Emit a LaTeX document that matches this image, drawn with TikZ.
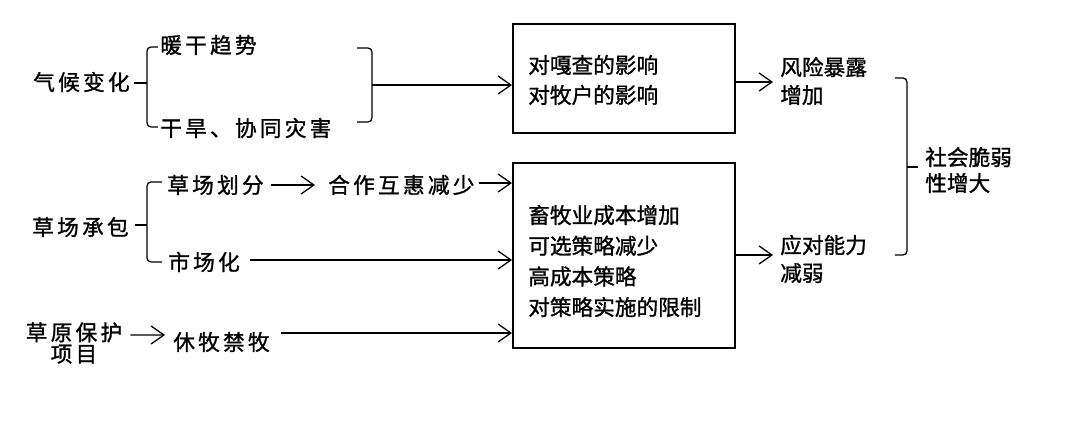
\documentclass[tikz,border=0pt]{standalone}
\usepackage{fontspec}
\setmainfont{Noto Sans CJK SC}
\newfontfamily\cjkwide[LetterSpace=15,FakeBold=1.2]{Noto Sans CJK SC}
\newfontfamily\cjknarrow[LetterSpace=0,FakeBold=1.2]{Noto Sans CJK SC}
\usetikzlibrary{arrows.meta}
\begin{document}
\begin{tikzpicture}[x=0.025cm,y=-0.025cm,
  lbl/.style={inner sep=0,anchor=west,font=\cjkwide\fontsize{15.4pt}{18pt}\selectfont},
  rlbl/.style={inner sep=0,anchor=west,align=left,font=\cjknarrow\fontsize{15.4pt}{19.9pt}\selectfont},
  frame/.style={draw,line width=1.1pt,inner sep=0,anchor=north west,minimum width=5.55cm},
  conn/.style={line width=0.9pt},
  arr/.style={conn,-{Straight Barb[length=0.32cm,width=0.45cm]}},
  brace/.style={conn,rounded corners=0.1cm}]
\fill[white] (0,0) rectangle (1080,425);
\useasboundingbox (0,0) rectangle (1080,425);

% left labels
\node[lbl] (qh) at (33,82) {气候变化};
\node[lbl] (nh) at (160,45) {暖干趋势};
\node[lbl] (gh) at (160,128) {干旱、协同灾害};
\node[lbl] (cc) at (32,227) {草场承包};
\node[lbl] (hf) at (167,185) {草场划分};
\node[lbl] (hz) at (328,185) {合作互惠减少};
\node[lbl] (sc) at (168,262) {市场化};
\node[lbl,anchor=center,align=center,font=\cjkwide\fontsize{15.4pt}{15.2pt}\selectfont] (cy) at (74,343) {草原保护\\项目};
\node[lbl] (xm) at (173,342) {休牧禁牧};

% boxes
\node[frame,minimum height=2.725cm] (box1) at (512,23) {};
\node[rlbl,font=\cjknarrow\fontsize{15.4pt}{21.3pt}\selectfont] (b1t) at (528,80) {对嘎查的影响\\对牧户的影响};
\node[frame,minimum height=4.625cm] (box2) at (512,162) {};
\node[rlbl,font=\cjknarrow\fontsize{15.4pt}{21.8pt}\selectfont] (b2t) at (528,261) {畜牧业成本增加\\可选策略减少\\高成本策略\\对策略实施的限制};

% right labels
\node[rlbl] (fx) at (780,81) {风险暴露\\增加};
\node[rlbl] (yd) at (780,259) {应对能力\\减弱};
\node[rlbl,font=\cjknarrow\fontsize{15.4pt}{18.4pt}\selectfont] (sh) at (925,170) {社会脆弱\\性增大};

% braces
\draw[brace] (158,47) -- (147,47) -- (147,127) -- (158,127);
\draw[conn] (134,83) -- (147,83);
\draw[brace] (357,48) -- (372,48) -- (372,122) -- (357,122);
\coordinate (r1m) at (380,85);
\draw[conn] (372,85) -- (r1m);
\draw[brace] (162,182) -- (147,182) -- (147,262) -- (162,262);
\draw[conn] (135,225) -- (147,225);
\draw[brace] (895,78) -- (907,78) -- (907,255) -- (895,255);
\draw[conn] (907,167) -- (918,167);

% arrows
\draw[arr] (r1m) -- (r1m -| box1.west);
\coordinate (fxin) at (773,82);
\draw[arr] (box1.east |- fxin) -- (fxin);
\coordinate (ydin) at (773,255);
\draw[arr] (box2.east |- ydin) -- (ydin);
\draw[arr] ([xshift=0.175cm]hf.east) -- ([xshift=-0.325cm]hz.west);
\coordinate (hza) at ([xshift=0.1cm,yshift=0.05cm]hz.east);
\draw[arr] (hza) -- (hza -| box2.west);
\coordinate (sca) at ([xshift=0.25cm,yshift=0.05cm]sc.east);
\draw[arr] (sca) -- (sca -| box2.west);
\draw[arr] ([xshift=0.2cm,yshift=0.2cm]cy.east) -- ([xshift=-0.2cm,yshift=0.175cm]xm.west);
\coordinate (xma) at ([xshift=0.275cm,yshift=0.225cm]xm.east);
\draw[arr] (xma) -- (xma -| box2.west);
\end{tikzpicture}
\end{document}
